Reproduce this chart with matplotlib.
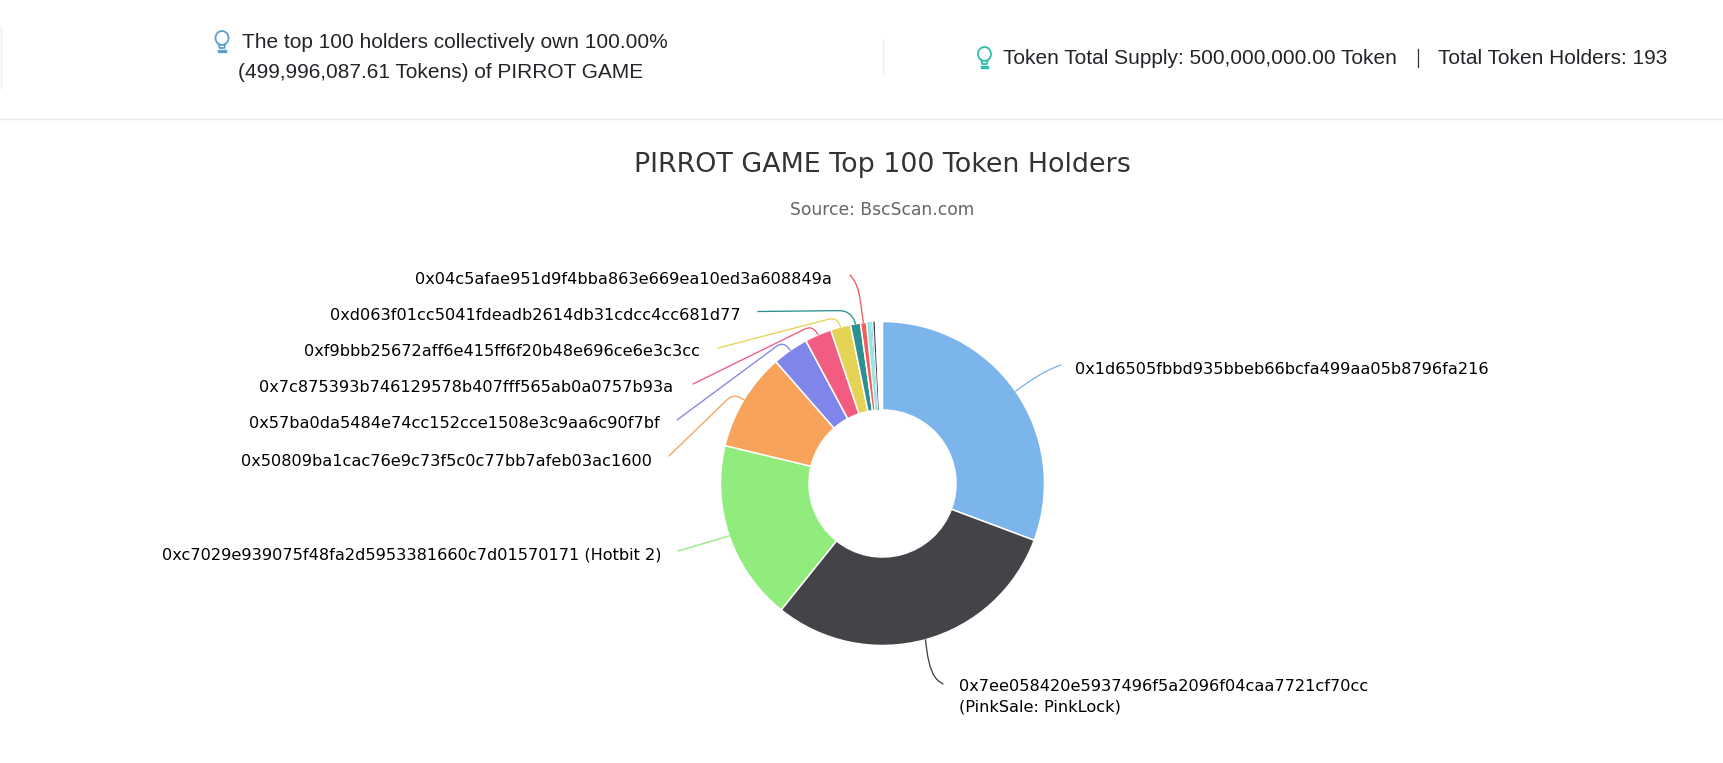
import numpy as np
import matplotlib
matplotlib.use('Agg')
import matplotlib.pyplot as plt
from matplotlib.path import Path
import matplotlib.patches as patches

###############################################################################
# Data
###############################################################################
HOLDERS = [
    '0x1d6505fbbd935bbeb66bcfa499aa05b8796fa216',
    '0x7ee058420e5937496f5a2096f04caa7721cf70cc\n(PinkSale: PinkLock)',
    '0xc7029e939075f48fa2d5953381660c7d01570171 (Hotbit 2)',
    '0x50809ba1cac76e9c73f5c0c77bb7afeb03ac1600',
    '0x57ba0da5484e74cc152cce1508e3c9aa6c90f7bf',
    '0x7c875393b746129578b407fff565ab0a0757b93a',
    '0xf9bbb25672aff6e415ff6f20b48e696ce6e3c3cc',
    '0xd063f01cc5041fdeadb2614db31cdcc4cc681d77',
    '0x04c5afae951d9f4bba863e669ea10ed3a608849a',
]
# Share of supply (%), labelled holders first and then the unlabelled slivers
SHARES = [30.70, 30.06, 18.00, 9.80, 3.60, 2.67, 2.00, 1.00, 0.58]
SLIVERS = [0.08, 0.39, 0.03, 0.08, 0.11, 0.14, 0.76]
TITLE = 'PIRROT GAME Top 100 Token Holders'
SUBTITLE = 'Source: BscScan.com'
NOTE_TOP = 'The top 100 holders collectively own 100.00%'
NOTE_BOTTOM = '(499,996,087.61 Tokens) of PIRROT GAME'
NOTE_SUPPLY = 'Token Total Supply: 500,000,000.00 Token'
NOTE_COUNT = 'Total Token Holders: 193'

###############################################################################
# Constants
###############################################################################
(W, H) = (1724, 763)
(CX, CY, R, R_IN) = (882.5, 483.5, 162, 73.5)
COLORS = [
    '#7cb5ec', '#434348', '#90ed7d', '#f7a35c', '#8085e9',
    '#f15c80', '#e4d354', '#2b908f', '#f45b5b'
]
SLIVER_COLORS = [
    '#ffffff', '#91e8e1', '#ffffff', '#7cb5ec', '#ffffff', '#434348', '#ffffff'
]
# Label anchors and connector shapes in screen pixels, same order as HOLDERS
LABEL_XY = [
    (1075, 369, 'left'), (959, 697, 'left'), (662, 555, 'right'),
    (652, 461, 'right'), (660, 424, 'right'), (673, 388, 'right'),
    (700, 352, 'right'), (741, 316, 'right'), (832, 280, 'right'),
]
ELBOW = [
    (1040, 373), (930, 675), (700, 544), (733, 394), (783, 341.5),
    (812, 325.5), (837, 317), (851, 310.5), (858, 285),
]
LINE_END = [
    (1061, 365), (943, 684), (678, 551), (669, 456), (677, 420),
    (693, 384), (718, 348), (758, 311.5), (850, 275),
]
ROUND = [30, 25, 0, 8, 8, 8, 9, 12, 14]
(HEX_SIZE, TXT_FONT) = (11.65, 'Liberation Sans')


def yp(y):
    # Screen pixels count from the top, the axes from the bottom
    return H - y


def bulb(ax, x, y, color):
    # Light bulb icon: glass outline plus the screw base
    ax.add_patch(patches.Ellipse(
        (x, yp(y)), 13, 14, fill=False, edgecolor=color, linewidth=1.3
    ))
    ax.plot(
        [x-3.2, x-2.4, x+2.4, x+3.2], [yp(y+6), yp(y+10), yp(y+10), yp(y+6)],
        color=color, linewidth=1.3
    )
    ax.plot([x-2.6, x+2.6], [yp(y+12.5), yp(y+12.5)], color=color, linewidth=2.4)


def connector(ax, start, elbow, end, rad, color):
    # Straight run from the label, rounded corner at the elbow, on to the wedge
    (p0, p1, p2) = [np.array(i, dtype=float) for i in (start, elbow, end)]
    if rad == 0:
        verts = [p0, p2]
        codes = [Path.MOVETO, Path.LINETO]
    else:
        a = p1 + (p0-p1)/np.linalg.norm(p0-p1)*min(rad, np.linalg.norm(p0-p1)*.7)
        b = p1 + (p2-p1)/np.linalg.norm(p2-p1)*rad
        verts = [p0, a, p1, b, p2]
        codes = [Path.MOVETO, Path.LINETO, Path.CURVE3, Path.CURVE3, Path.LINETO]
    ax.add_patch(patches.PathPatch(
        Path(verts, codes), fill=False, edgecolor=color, linewidth=.95,
        capstyle='round'
    ))


###############################################################################
# Generate Figure
###############################################################################
fig = plt.figure(figsize=(W/100, H/100), dpi=100, facecolor='white')
ax = fig.add_axes([0, 0, 1, 1])
# Donut -----------------------------------------------------------------------
values = SHARES + SLIVERS
(wedges, _) = ax.pie(
    values, colors=COLORS+SLIVER_COLORS, center=(CX, yp(CY)), radius=R,
    startangle=90, counterclock=False,
    wedgeprops={'width': R-R_IN, 'edgecolor': 'white', 'linewidth': 1.1}
)
for wedge in wedges[len(SHARES):]:
    wedge.set_linewidth(0)
ax.set_xlim(0, W)
ax.set_ylim(0, H)
ax.set_aspect('auto')
ax.axis('off')
# Labels and connectors -------------------------------------------------------
total = sum(values)
cum = np.cumsum(values)
for (i, name) in enumerate(HOLDERS):
    mid = np.deg2rad((cum[i]-values[i]/2)/total*360)
    start = (CX+R*np.sin(mid), yp(CY)+R*np.cos(mid))
    (lx, ly, side) = LABEL_XY[i]
    ax.text(
        lx, yp(ly), name, ha=side, va='center', color='black',
        fontsize=HEX_SIZE, linespacing=1.45
    )
    (ex, ey) = ELBOW[i]
    (fx, fy) = LINE_END[i]
    connector(ax, (fx, yp(fy)), (ex, yp(ey)), start, ROUND[i], COLORS[i])
# Titles ----------------------------------------------------------------------
ax.text(
    882, yp(165), TITLE, ha='center', va='center', color='#333333', fontsize=19.35
)
ax.text(
    882, yp(210), SUBTITLE, ha='center', va='center', color='#666666',
    fontsize=12.3
)
# Header strip ----------------------------------------------------------------
ax.plot([0, W], [yp(119), yp(119)], color='#e7e7e7', linewidth=1)
ax.plot([883, 883], [yp(40), yp(73)], color='#eeeeee', linewidth=1)
ax.plot([1, 1], [yp(27), yp(88)], color='#eeeeee', linewidth=1)
bulb(ax, 222, 38, '#5a9fd0')
bulb(ax, 984.5, 54, '#2fc0aa')
for (x, y, txt) in (
    (242, 42, NOTE_TOP), (238, 73, NOTE_BOTTOM),
    (1003, 58.5, NOTE_SUPPLY), (1438.5, 58.5, NOTE_COUNT)
):
    ax.text(
        x, yp(y), txt, ha='left', va='center', color='#212529',
        fontsize=15.05, family=TXT_FONT
    )
ax.plot([1418.5, 1418.5], [yp(49), yp(67)], color='#333333', linewidth=.9)
fig.savefig('out.png', dpi=100, facecolor='white')
plt.close(fig)
